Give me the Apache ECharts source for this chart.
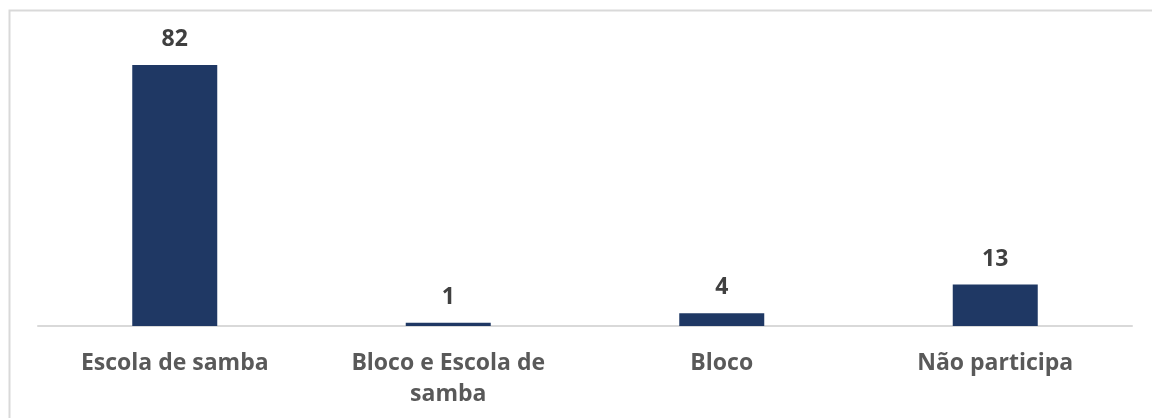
<!DOCTYPE html>
<html>
<head>
<meta charset="utf-8">
<script src="https://cdn.jsdelivr.net/npm/echarts@6/dist/echarts.min.js"></script>
<style>
html,body{margin:0;padding:0;background:#fff;}
#chart{width:1152px;height:418px;}
</style>
</head>
<body>
<div id="chart"></div>
<script>
const categories = ["Escola de samba", "Bloco e Escola de\nsamba", "Bloco", "Não participa"];
const values = [82, 1, 4, 13];

const chart = echarts.init(document.getElementById('chart'));
chart.setOption({
  animation: false,
  backgroundColor: '#ffffff',
  graphic: [{
    type: 'rect',
    left: 7, top: 8,
    shape: { x: 0, y: 0, width: 1170, height: 430 },
    style: { fill: 'none', stroke: '#D9D9D9', lineWidth: 2 },
    z: -1
  }],
  grid: { left: 38, right: 20, top: 39.5, bottom: 92 },
  xAxis: {
    type: 'category',
    data: categories,
    axisLine: { show: true, lineStyle: { color: '#D9D9D9', width: 2 } },
    axisTick: { show: false },
    axisLabel: {
      interval: 0,
      margin: 22,
      color: '#595959',
      fontFamily: 'Open Sans',
      fontWeight: 'bold',
      fontSize: 23,
      lineHeight: 31
    }
  },
  yAxis: {
    type: 'value',
    min: 0,
    max: 90,
    show: false,
    splitLine: { show: false }
  },
  series: [{
    type: 'bar',
    data: values,
    barWidth: 85,
    itemStyle: { color: '#1F3864' },
    label: {
      show: true,
      position: 'top',
      distance: 14,
      color: '#404040',
      fontFamily: 'Open Sans',
      fontWeight: 'bold',
      fontSize: 23
    }
  }]
});
</script>
</body>
</html>
